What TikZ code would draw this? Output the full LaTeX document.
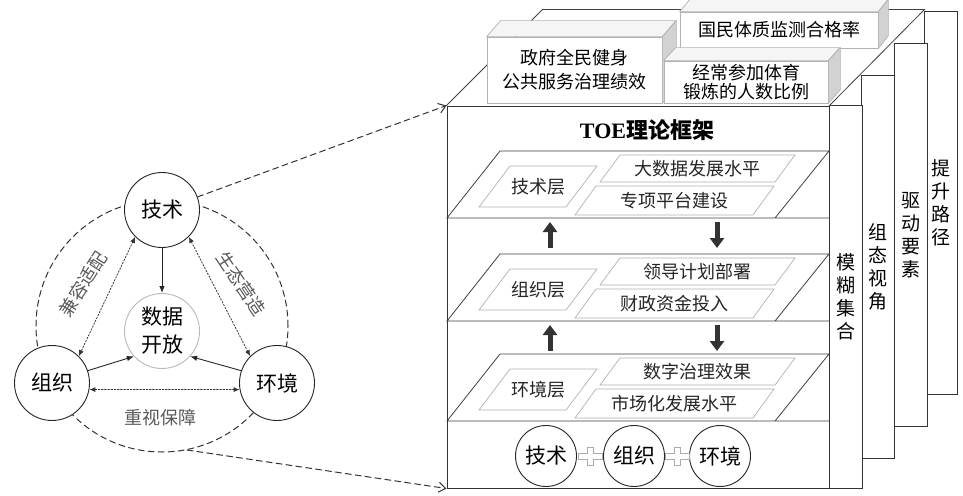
\documentclass[tikz,border=0pt]{standalone}
\usepackage{fontspec}
\setmainfont{Liberation Serif}
\newfontfamily\cjk{Noto Sans CJK SC}
\usetikzlibrary{arrows.meta}

\begin{document}
\begin{tikzpicture}[x=1pt,y=-1pt,line cap=round,
  >={Straight Barb[length=7pt,width=10pt]},
  ring/.style={circle,draw=black!85,line width=0.9pt,fill=white,minimum size=75pt,inner sep=0pt,align=center,font=\cjk\fontsize{21}{28}\selectfont},
  lab/.style={font=\cjk\fontsize{18}{20}\selectfont,text=gray!70!black,inner sep=0pt},
  bigdash/.style={draw=black!80,line width=1pt,dash pattern=on 6pt off 4pt},
  dotlink/.style={draw=black!80,line width=0.8pt,dash pattern=on 1.6pt off 1.6pt,{Latex[length=6pt,width=5pt]}-{Latex[length=6pt,width=5pt]}},
  pull/.style={draw=black!85,line width=0.9pt,-{Latex[length=7pt,width=5.5pt]}},
  panel/.style={rectangle,draw=black!80,line width=0.9pt,fill=white,minimum width=33pt,minimum height=383pt,inner sep=0pt,align=center,font=\cjk\fontsize{19}{23}\selectfont},
  cube/.style={rectangle,draw=gray!60,line width=0.7pt,fill=white,inner sep=0pt,align=center,font=\cjk\fontsize{18}{24}\selectfont},
  face/.style={draw=gray!60,line width=0.7pt},
  layer/.style={draw=gray!50!black,line width=0.8pt},
  slab/.style={draw=gray!60,line width=0.7pt},
  word/.style={font=\cjk\fontsize{18}{20}\selectfont,text=black!85,inner sep=0pt},
  fat/.style={draw=gray!40!black,line width=5pt,line cap=butt,-{Triangle[length=10pt,width=14pt]}}]
\useasboundingbox (0,0) rectangle (963,495);

\coordinate (ringc) at (162,326);
\draw[bigdash] (ringc) circle (126pt);
\node[ring] (jishu) at (162,210) {技术};
\node[ring] (zuzhi) at (52,383) {组织};
\node[ring] (huanjing) at (277,383) {环境};
\node[ring,draw=gray!55] (shuju) at (162,331) {数据\\开放};
\draw[pull] (jishu) -- (shuju);
\draw[pull] (zuzhi.19) -- (shuju.222);
\draw[pull] (huanjing.161) -- (shuju.-42);
\draw[dotlink] (jishu.225) -- (zuzhi.45);
\draw[dotlink] (jishu.-45) -- (huanjing.135);
\draw[dotlink] (zuzhi.-10) -- (huanjing.190);
\node[lab,rotate=57.5] (jianrong) at (83,284) {兼容适配};
\node[lab,rotate=-56.4] (shengtai) at (241,284) {生态营造};
\node[lab] (zhongshi) at (160,418) {重视保障};

\node[panel] (tisheng) at (941,203) {提\\升\\路\\径};
\node[panel] (qudong) at (911,235) {驱\\动\\要\\素};
\node[panel] (zutai) at (878,267) {组\\态\\视\\角};
\node[panel] (mohu) at (845.5,297) {模\\糊\\集\\合};
\node[rectangle,draw=black!80,line width=1pt,fill=white,minimum width=382pt,minimum height=382pt,inner sep=0pt] (toe) at (638,297) {};
\filldraw[fill=white,draw=black!75,line width=0.8pt] (toe.north west) -- ++(96,-96) -- ++(382,0) -- (toe.north east);

\node[cube,minimum width=198pt,minimum height=36pt] (tizhi) at (779,30) {国民体质监测合格率};
\filldraw[face,fill=gray!8] (tizhi.north west) -- ++(10,-12) -- ++(198,0) -- (tizhi.north east) -- cycle;
\filldraw[face,fill=gray!35] (tizhi.north east) -- ++(10,-12) -- ++(0,36) -- (tizhi.south east) -- cycle;
\node[cube,minimum width=175pt,minimum height=66pt] (zhengfu) at (574.5,70) {政府全民健身\\公共服务治理绩效};
\filldraw[face,fill=gray!8] (zhengfu.north west) -- ++(14,-16) -- ++(175,0) -- (zhengfu.north east) -- cycle;
\filldraw[face,fill=gray!35] (zhengfu.north east) -- ++(14,-16) -- ++(0,66) -- (zhengfu.south east) -- cycle;
\node[cube,minimum width=164pt,minimum height=42pt,font=\cjk\fontsize{18}{19}\selectfont] (canjia) at (746,82) {经常参加体育\\锻炼的人数比例};
\filldraw[face,fill=gray!8] (canjia.north west) -- ++(12,-13) -- ++(164,0) -- (canjia.north east) -- cycle;
\filldraw[face,fill=gray!35] (canjia.north east) -- ++(12,-13) -- ++(0,42) -- (canjia.south east) -- cycle;

\draw[bigdash,->] (jishu) -- (toe.north west);
\coordinate (ringbot) at (187,450);
\draw[bigdash,->] (ringbot) -- (toe.south west);

\node[font=\fontsize{22}{24}\selectfont\bfseries] (title) at (647,130) {TOE{\cjk 理论框架}};

\draw[layer] (775,218) -- (829,151) -- (500,151) -- (447,218) -- (829,218);
\draw[slab] (479,207) -- ++(87,0) -- ++(31,-41) -- ++(-87,0) -- cycle;
\node[word] (jsc) at (538,186.5) {技术层};
\draw[slab] (600,182) -- ++(175,0) -- ++(20,-27) -- ++(-175,0) -- cycle;
\node[word] (dsj) at (697,168.5) {大数据发展水平};
\draw[slab] (575,215) -- ++(178,0) -- ++(21,-29) -- ++(-178,0) -- cycle;
\node[word] (zxpt) at (674.5,200.5) {专项平台建设};

\draw[layer] (775,321) -- (829,254) -- (500,254) -- (447,321) -- (829,321);
\draw[slab] (479,310) -- ++(87,0) -- ++(31,-41) -- ++(-87,0) -- cycle;
\node[word] (zzc) at (538,289.5) {组织层};
\draw[slab] (600,285) -- ++(175,0) -- ++(20,-27) -- ++(-175,0) -- cycle;
\node[word] (ldjh) at (697,271.5) {领导计划部署};
\draw[slab] (575,318) -- ++(178,0) -- ++(21,-29) -- ++(-178,0) -- cycle;
\node[word] (czzj) at (674.5,303.5) {财政资金投入};

\draw[layer] (775,421) -- (829,354) -- (500,354) -- (447,421) -- (829,421);
\draw[slab] (479,410) -- ++(87,0) -- ++(31,-41) -- ++(-87,0) -- cycle;
\node[word] (hjc) at (538,389.5) {环境层};
\draw[slab] (600,385) -- ++(175,0) -- ++(20,-27) -- ++(-175,0) -- cycle;
\node[word] (szzl) at (697,371.5) {数字治理效果};
\draw[slab] (575,418) -- ++(178,0) -- ++(21,-29) -- ++(-178,0) -- cycle;
\node[word] (scfz) at (674.5,403.5) {市场化发展水平};

\coordinate (up1a) at (550,248);
\coordinate (up1b) at (550,222);
\coordinate (dn1a) at (717,222);
\coordinate (dn1b) at (717,248);
\coordinate (up2a) at (550,351);
\coordinate (up2b) at (550,325);
\coordinate (dn2a) at (717,325);
\coordinate (dn2b) at (717,351);
\draw[fat] (up1a) -- (up1b);
\draw[fat] (dn1a) -- (dn1b);
\draw[fat] (up2a) -- (up2b);
\draw[fat] (dn2a) -- (dn2b);

\node[ring,minimum size=61pt] (jishu2) at (546,456) {技术};
\node[ring,minimum size=61pt] (zuzhi2) at (634,456) {组织};
\node[ring,minimum size=61pt] (huanjing2) at (720,456) {环境};
\path (jishu2) -- (zuzhi2) coordinate[midway] (plus1);
\path (zuzhi2) -- (huanjing2) coordinate[midway] (plus2);
\filldraw[fill=white,draw=gray!65,line width=0.7pt,shift={(plus1)}] (-12,-3) -- (-3,-3) -- (-3,-9) -- (3,-9) -- (3,-3) -- (12,-3) -- (12,3) -- (3,3) -- (3,9) -- (-3,9) -- (-3,3) -- (-12,3) -- cycle;
\filldraw[fill=white,draw=gray!65,line width=0.7pt,shift={(plus2)}] (-12,-3) -- (-3,-3) -- (-3,-9) -- (3,-9) -- (3,-3) -- (12,-3) -- (12,3) -- (3,3) -- (3,9) -- (-3,9) -- (-3,3) -- (-12,3) -- cycle;
\end{tikzpicture}
\end{document}
